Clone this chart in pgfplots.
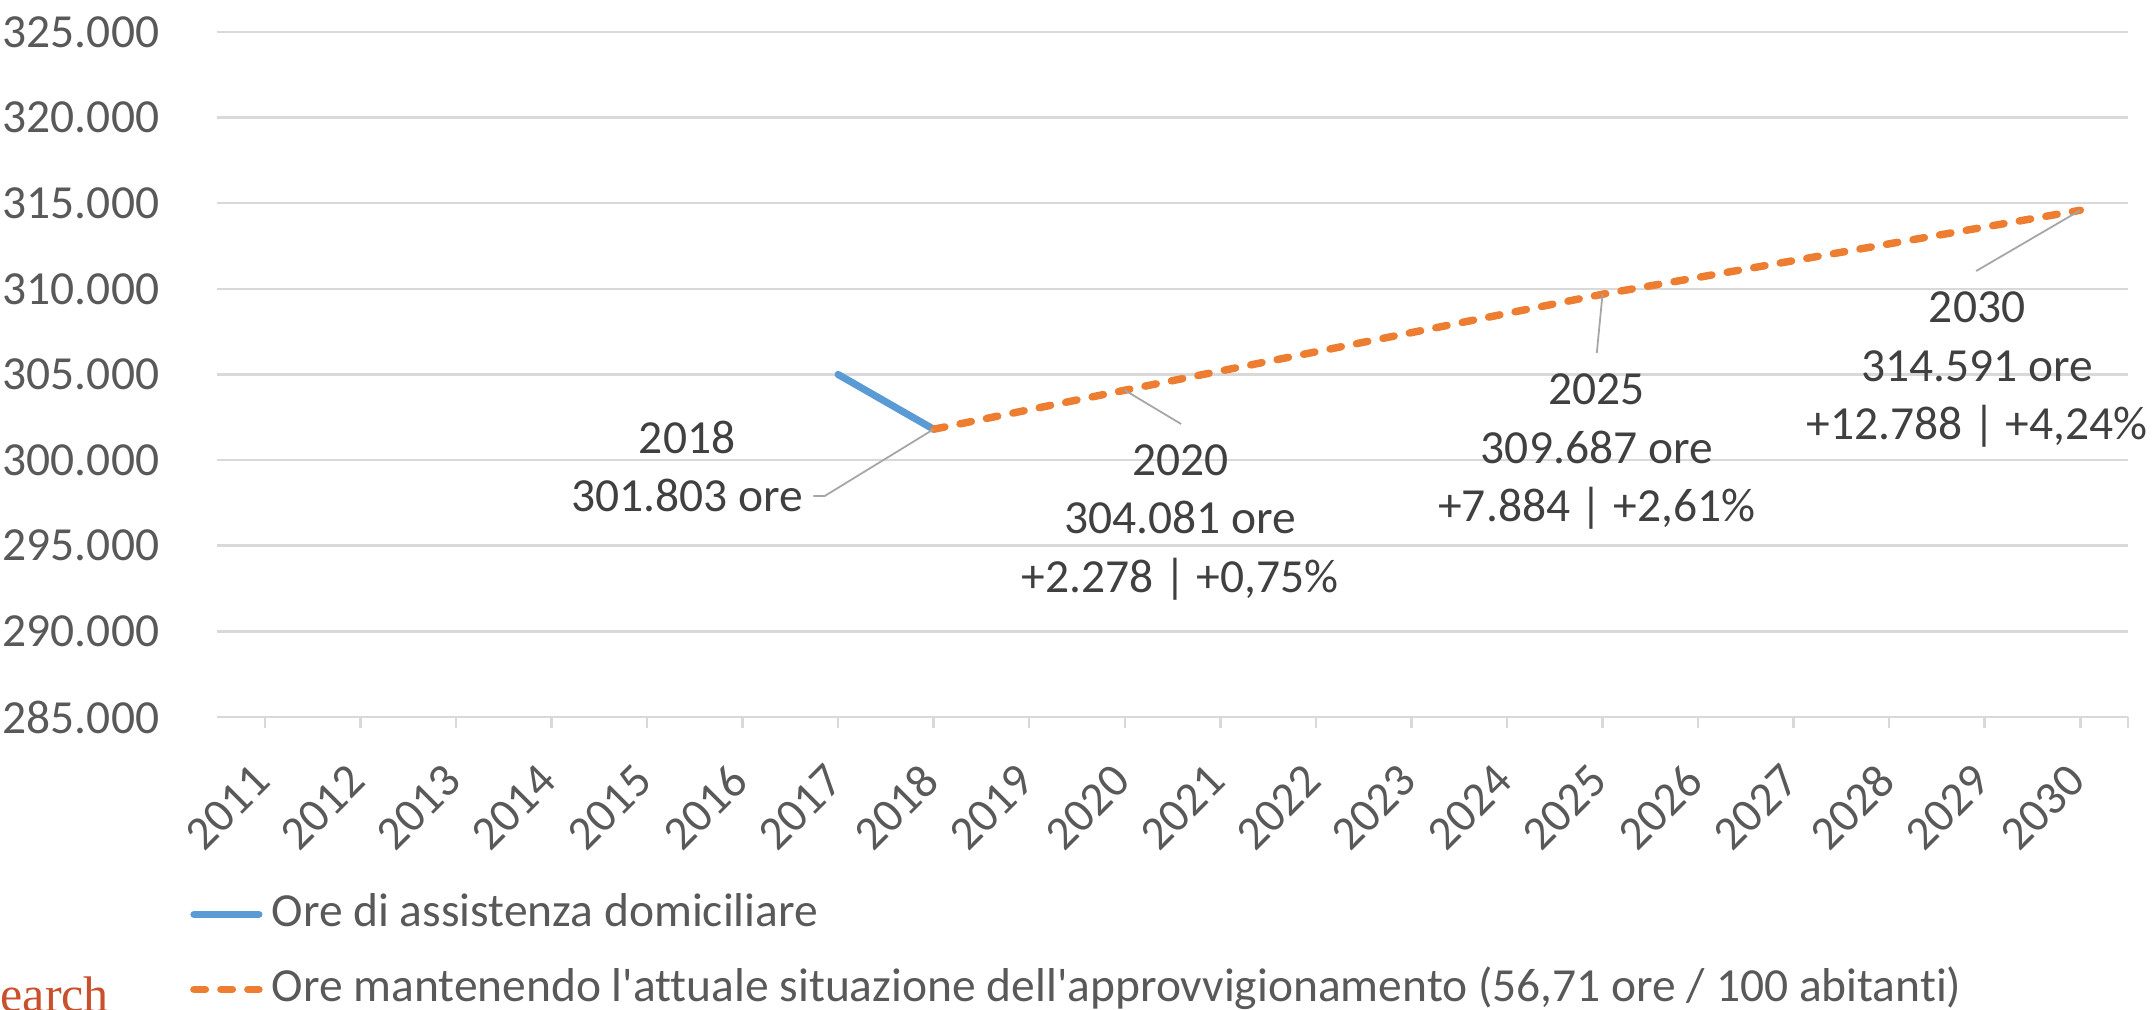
\documentclass[border=0pt]{standalone}
\usepackage{fontspec}
\setmainfont{Carlito}[Ligatures={TeXOff,CommonOff}]
\newfontfamily\wmfont{Liberation Serif}
\usepackage{pgfplots}
\pgfplotsset{compat=1.18}
\definecolor{serieblue}{HTML}{5B9BD5}
\definecolor{serieorange}{HTML}{ED7D31}
\definecolor{gridgray}{HTML}{D9D9D9}
\definecolor{ticktext}{HTML}{595959}
\definecolor{labeltext}{HTML}{404040}
\definecolor{leadergray}{HTML}{A6A6A6}
\definecolor{wmred}{HTML}{C8502A}
\tikzset{
  lbl/.style={align=center, text=labeltext, inner sep=0pt},
  leader/.style={draw=leadergray, line width=0.5pt},
}

\begin{document}
\fontsize{13.3}{16.3}\selectfont
\begin{tikzpicture}
\useasboundingbox (-60.76pt,-82.04pt) rectangle (542.64pt,200.76pt);
\begin{axis}[
  at={(0pt,0pt)}, anchor=south west,
  scale only axis,
  width=535.1pt, height=191.8pt,
  xmin=2010.5, xmax=2030.5,
  ymin=285000, ymax=325000,
  clip=false,
  axis line style={draw=none},
  scaled y ticks=false,
  xtick={2011,2012,2013,2014,2015,2016,2017,2018,2019,2020,
         2021,2022,2023,2024,2025,2026,2027,2028,2029,2030},
  xticklabels={2011,2012,2013,2014,2015,2016,2017,2018,2019,2020,
               2021,2022,2023,2024,2025,2026,2027,2028,2029,2030},
  extra x ticks={2030.5}, extra x tick labels={},
  ytick={285000,290000,295000,300000,305000,310000,315000,320000,325000},
  yticklabels={285.000,290.000,295.000,300.000,305.000,310.000,315.000,320.000,325.000},
  ymajorgrids,
  grid style={draw=gridgray, line width=0.7pt},
  tick pos=left,
  tick align=outside,
  major tick length=3.1pt,
  xtick style={draw=gridgray, line width=0.7pt},
  ytick style={draw=none},
  xticklabel style={yshift=-12.5pt, xshift=-0.8pt, rotate=45, anchor=east,
                    inner sep=0pt, text=ticktext},
  yticklabel style={anchor=east, inner sep=0pt, xshift=-12.9pt, text=ticktext},
  legend style={at={(axis description cs:-0.0144,-0.343)}, anchor=west,
                draw=none, fill=none, inner sep=0pt, row sep=9pt, column sep=2.5pt,
                nodes={inner sep=0pt, text height=9.5pt, text depth=2.5pt, text=ticktext}},
  legend cell align=left,
  legend image code/.code={\draw[#1] (0pt,0pt) -- (18.2pt,0pt);},
]
% serie storica
\addplot[serieblue, line width=2pt, line cap=round] coordinates {
  (2017,305000)(2018,301803)
};
\addlegendentry{Ore di assistenza domiciliare}
% proiezione
\addplot[serieorange, line width=2.1pt, line cap=round, dash pattern=on 3.2pt off 4.35pt] coordinates {
  (2018,301803)(2020,304081)(2025,309687)(2030,314591)
};
\addlegendentry{Ore mantenendo l'attuale situazione dell'approvvigionamento (56,71 ore / 100 abitanti)}

% etichette dati
\draw[leader] (axis cs:2018,301803) -- (axis cs:2016.86,297904) -- (axis cs:2016.74,297904);
\node[lbl] at (axis cs:2015.42,299627) {2018\\301.803 ore};
\draw[leader] (axis cs:2020,304081) -- (axis cs:2020.59,302108);
\node[lbl] at (axis cs:2020.58,296358) {2020\\304.081 ore\\+2.278 | +0,75\%};
\draw[leader] (axis cs:2025,309687) -- (axis cs:2024.94,306254);
\node[lbl] at (axis cs:2024.94,300503) {2025\\309.687 ore\\+7.884 | +2,61\%};
\draw[leader] (axis cs:2030,314591) -- (axis cs:2028.91,311042);
\node[lbl] at (axis cs:2028.92,305291) {2030\\314.591 ore\\+12.788 | +4,24\%};
\end{axis}
\node[anchor=base west, inner sep=0pt, text=wmred, font=\wmfont\fontsize{14}{16}\selectfont]
  at (-60.76pt,-82.6pt) {earch};
\end{tikzpicture}
\end{document}
